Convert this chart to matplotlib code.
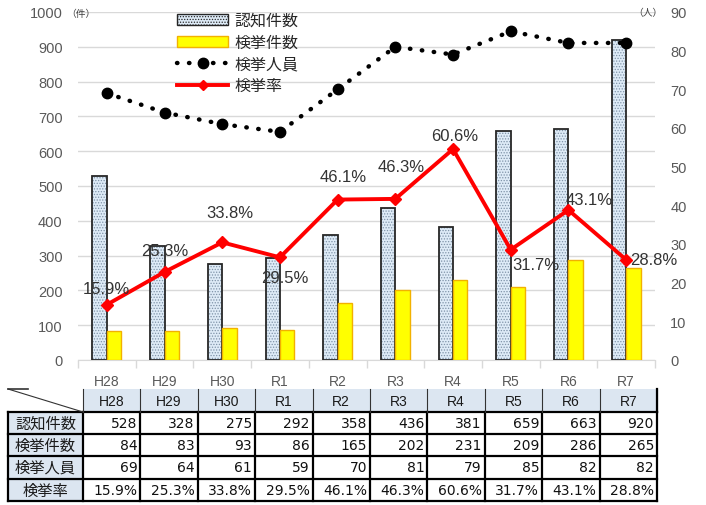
import matplotlib
matplotlib.use('Agg')
import matplotlib.pyplot as plt
from matplotlib.patches import Rectangle, Patch
from matplotlib.lines import Line2D
import numpy as np

plt.rcParams['font.family'] = ['Liberation Sans', 'Noto Sans CJK JP', 'DejaVu Sans']
plt.rcParams['hatch.linewidth'] = 0.6

# ---------------- data ----------------
years = ['H28', 'H29', 'H30', 'R1', 'R2', 'R3', 'R4', 'R5', 'R6', 'R7']
recognized = [528, 328, 275, 292, 358, 436, 381, 659, 663, 920]   # 認知件数
cleared = [84, 83, 93, 86, 165, 202, 231, 209, 286, 265]          # 検挙件数
persons = [69, 64, 61, 59, 70, 81, 79, 85, 82, 82]                # 検挙人員
rate = [15.9, 25.3, 33.8, 29.5, 46.1, 46.3, 60.6, 31.7, 43.1, 28.8]  # 検挙率 (%)
series_names = ['認知件数', '検挙件数', '検挙人員', '検挙率']
left_ticks = list(range(0, 1001, 100))
right_ticks = list(range(0, 91, 10))

# label placement (pixel offsets from the point)
label_offsets = [(0, 16), (0, 21), (8, 30), (5, -20), (6, 23),
                 (6, 32), (2, 14), (25, -15), (21, 11), (28, 0)]

W, H = 706, 506
fig = plt.figure(figsize=(W / 100, H / 100), dpi=100)
ax = fig.add_axes([78 / W, 1 - 361 / H, (655 - 78) / W, 348 / H])

x = np.arange(len(years))
bw = 0.25
blue_face = '#deebf7'
ax.bar(x - bw / 2, recognized, width=bw, color=blue_face, hatch='......',
       edgecolor='#7f93a8', linewidth=0, zorder=2)
ax.bar(x - bw / 2, recognized, width=bw, facecolor='none',
       edgecolor='#262626', linewidth=1.3, zorder=3)
ax.bar(x + bw / 2, cleared, width=bw, color='#ffff00',
       edgecolor='#f2b100', linewidth=1.0, zorder=3)

ax.set_xlim(-0.5, len(years) - 0.5)
ax.set_ylim(0, 1000)
ax.set_yticks(left_ticks)
ax.set_xticks(x)
ax.set_xticklabels(years)
ax.set_xticks(np.arange(len(years) + 1) - 0.5, minor=True)
ax.tick_params(axis='x', which='major', length=0, pad=10, labelsize=10, labelcolor='#595959')
ax.tick_params(axis='x', which='minor', length=6, color='#d9d9d9', width=1)
ax.tick_params(axis='y', length=0, pad=11, labelsize=10.5, labelcolor='#595959')
ax.yaxis.grid(True, color='#d9d9d9', linewidth=1, zorder=0)
ax.set_axisbelow(True)
for s in ['top', 'left', 'right']:
    ax.spines[s].set_visible(False)
ax.spines['bottom'].set_color('#d9d9d9')

# right axis: persons
ax2 = ax.twinx()
ax2.set_ylim(0, 90)
ax2.set_yticks(right_ticks)
ax2.tick_params(axis='y', length=0, pad=11, labelsize=10.5, labelcolor='#595959')
for s in ax2.spines.values():
    s.set_visible(False)
ax2.plot(x, persons, color='black', linestyle=(0, (0.1, 2.6)), linewidth=3.2,
         dash_capstyle='round', marker='o', markersize=7.5, zorder=4)

# hidden axis: rate (0-100 %)
ax3 = ax.twinx()
ax3.set_ylim(0, 100)
ax3.axis('off')
ax3.plot(x, rate, color='#ff0000', linewidth=2.8, marker='D', markersize=6, zorder=5)
for i, r in enumerate(rate):
    ax3.annotate(f'{r}%', (x[i], r), xytext=label_offsets[i], textcoords='offset pixels',
                 ha='center', va='center', fontsize=12, color='#333333', zorder=6)

# unit labels
fig.text(66 / W, 1 - 14 / H, '（件）', fontsize=7, color='#404040', va='center', ha='left')
fig.text(633 / W, 1 - 13 / H, '（人）', fontsize=7, color='#404040', va='center', ha='left')

# legend
handles = [
    Patch(facecolor=blue_face, edgecolor='#262626', hatch='......', linewidth=1),
    Patch(facecolor='#ffff00', edgecolor='#f2b100', linewidth=1),
    Line2D([], [], color='black', linestyle=(0, (0.1, 2.6)), linewidth=3.2,
           dash_capstyle='round', marker='o', markersize=7.5),
    Line2D([], [], color='#ff0000', linewidth=2.8, marker='D', markersize=5),
]
fig.legend(handles, series_names, loc='upper left', bbox_to_anchor=(177 / W, 1 - 14 / H),
           frameon=False, fontsize=11.5, handlelength=3.2, handletextpad=0.4,
           labelspacing=0.42, borderpad=0, borderaxespad=0, labelcolor='#262626')

# ---------------- table ----------------
tax = fig.add_axes([0, 0, 1, 1])
tax.set_xlim(0, W)
tax.set_ylim(H, 0)
tax.axis('off')

col_w = (657 - 83) / len(years)
xs = [8, 83] + [83 + col_w * (i + 1) for i in range(len(years))]
ys = [390, 413, 435, 457, 480, 502]
hdr_bg = '#dce6f1'

for j in range(len(years)):
    tax.add_patch(Rectangle((xs[j + 1], ys[0]), xs[j + 2] - xs[j + 1], ys[1] - ys[0],
                            facecolor=hdr_bg, edgecolor='none'))
    tax.text((xs[j + 1] + xs[j + 2]) / 2, (ys[0] + ys[1]) / 2 + 1, years[j],
             ha='center', va='center', fontsize=10, color='#1a1a1a')
for r in range(4):
    tax.add_patch(Rectangle((xs[0], ys[r + 1]), xs[1] - xs[0], ys[r + 2] - ys[r + 1],
                            facecolor=hdr_bg, edgecolor='none'))
    tax.text((xs[0] + xs[1]) / 2, (ys[r + 1] + ys[r + 2]) / 2, series_names[r],
             ha='center', va='center', fontsize=11, color='#1a1a1a',
             family=['Noto Sans CJK JP', 'DejaVu Sans'])

rows = [
    [str(v) for v in recognized],
    [str(v) for v in cleared],
    [str(v) for v in persons],
    [f'{v:.1f}%' for v in rate],
]
for r, vals in enumerate(rows):
    for j, s in enumerate(vals):
        tax.text(xs[j + 2] - 3, (ys[r + 1] + ys[r + 2]) / 2, s, ha='right', va='center',
                 fontsize=10, color='#111111', family=['DejaVu Sans'])

# grid lines of the table
for yy in ys[1:]:
    tax.plot([xs[0], xs[-1]], [yy, yy], color='black', linewidth=1.6, solid_capstyle='projecting')
for xx in xs:
    tax.plot([xx, xx], [ys[1], ys[-1]], color='black', linewidth=1.6, solid_capstyle='projecting')
for xx in xs[1:]:
    tax.plot([xx, xx], [ys[0], ys[1]], color='#333333', linewidth=0.8)
tax.plot([xs[0], xs[1]], [ys[0], ys[1]], color='#333333', linewidth=0.8)
tax.plot([xs[0], xs[0] + 20], [ys[0], ys[0]], color='#333333', linewidth=1.2)
tax.plot([xs[-1], xs[-1]], [ys[0], ys[1]], color='black', linewidth=1.6)

fig.savefig('out.png', dpi=100)
